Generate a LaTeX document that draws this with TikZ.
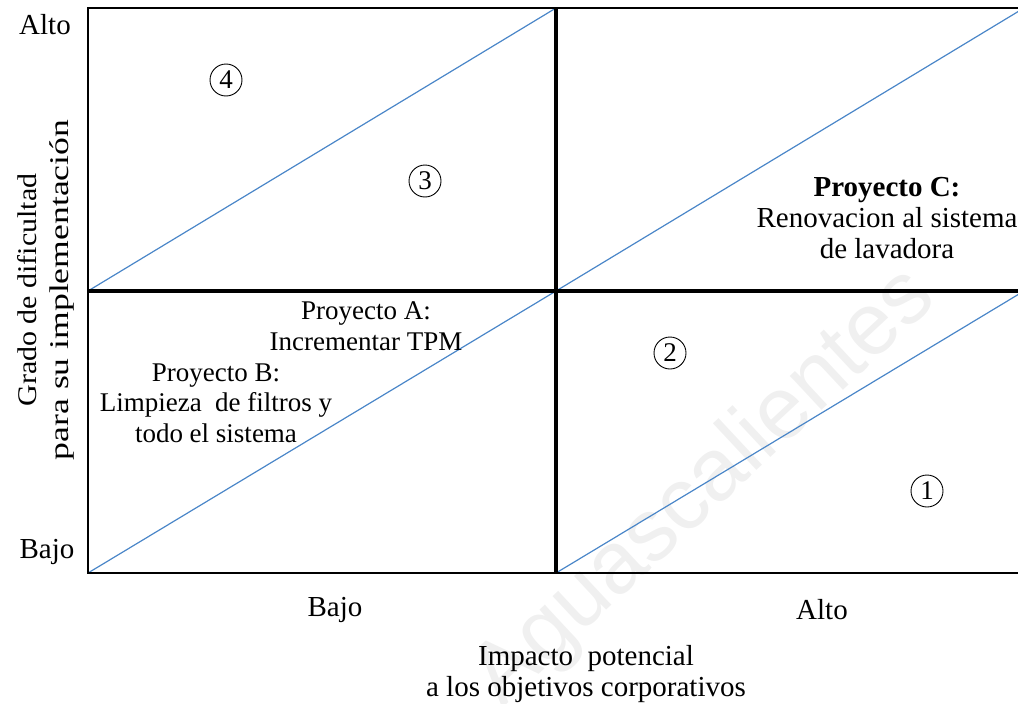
\documentclass[tikz,border=0pt]{standalone}
\usepackage{fontspec}
\setmainfont{Liberation Serif}
\newfontfamily\marcafont{Liberation Sans}
\usepackage{xcolor}
\definecolor{linea}{HTML}{4A86C8}
\definecolor{marca}{HTML}{F0F0F0}

\begin{document}
\begin{tikzpicture}[x=1pt,y=-1pt,
	texto/.style={font=\fontsize{29}{31}\selectfont,align=center,inner sep=0pt},
	proyecto/.style={texto,font=\fontsize{27}{30.5}\selectfont},
	numero/.style={draw,circle,line width=0.9pt,minimum size=32pt,inner sep=0pt,font=\fontsize{27}{27}\selectfont},
	diagonal/.style={draw=linea,line width=1.2pt},
	borde/.style={line width=2.4pt},
	cruz/.style={line width=4.5pt}]
	\useasboundingbox (0,0) rectangle (1018,704);
	%points of the matrix
	\coordinate (NO) at (88,8);
	\coordinate (NE) at (1026,8);
	\coordinate (SO) at (88,573);
	\coordinate (SE) at (1026,573);
	\coordinate (N) at (556,8);
	\coordinate (S) at (556,573);
	\coordinate (O) at (88,291);
	\coordinate (E) at (1026,291);
	\coordinate (C) at (556,291);
	\coordinate (D1) at (1024,8);
	\coordinate (D2) at (1024,291);
	%watermark
	\node[text=marca,font=\marcafont\fontsize{88}{88}\selectfont,rotate=43] (marca) at (705,488) {Aguascalientes};
	%diagonals
	\draw[diagonal] (O) -- (N);
	\draw[diagonal] (C) -- (D1);
	\draw[diagonal] (SO) -- (C);
	\draw[diagonal] (S) -- (D2);
	%frame
	\draw[borde] (NE) -- (NO) -- (SO) -- (SE);
	\draw[cruz] (N) -- (S);
	\draw[cruz] (O) -- (E);
	%axis labels
	\node[texto] (altoy) at (45,25) {Alto};
	\node[texto] (bajoy) at (47,552) {Bajo};
	\node[texto,font=\fontsize{27}{32}\selectfont,rotate=90] (ejey) at (46,290) {\scalebox{1.11}[1]{Grado de dificultad}\\\scalebox{1.32}[1]{para su implementación}};
	\node[texto] (bajox) at (335,610) {Bajo};
	\node[texto] (altox) at (822,610) {Alto};
	\node[texto] (ejex) at (586,674) {Impacto\ \ potencial\\a los objetivos corporativos};
	%numbers
	\node[numero] (n4) at (226,80) {4};
	\node[numero] (n3) at (425,181) {3};
	\node[numero] (n2) at (670,353) {2};
	\node[numero] (n1) at (927,491) {1};
	%projects
	\node[texto] (pc) at (887,218) {\textbf{Proyecto C:}\\Renovacion al sistema\\de lavadora};
	\node[proyecto] (pa) at (366,326) {Proyecto A:\\Incrementar TPM};
	\node[proyecto] (pb) at (216,403) {Proyecto B:\\Limpieza\ \ de filtros y\\todo el sistema};
\end{tikzpicture}
\end{document}
